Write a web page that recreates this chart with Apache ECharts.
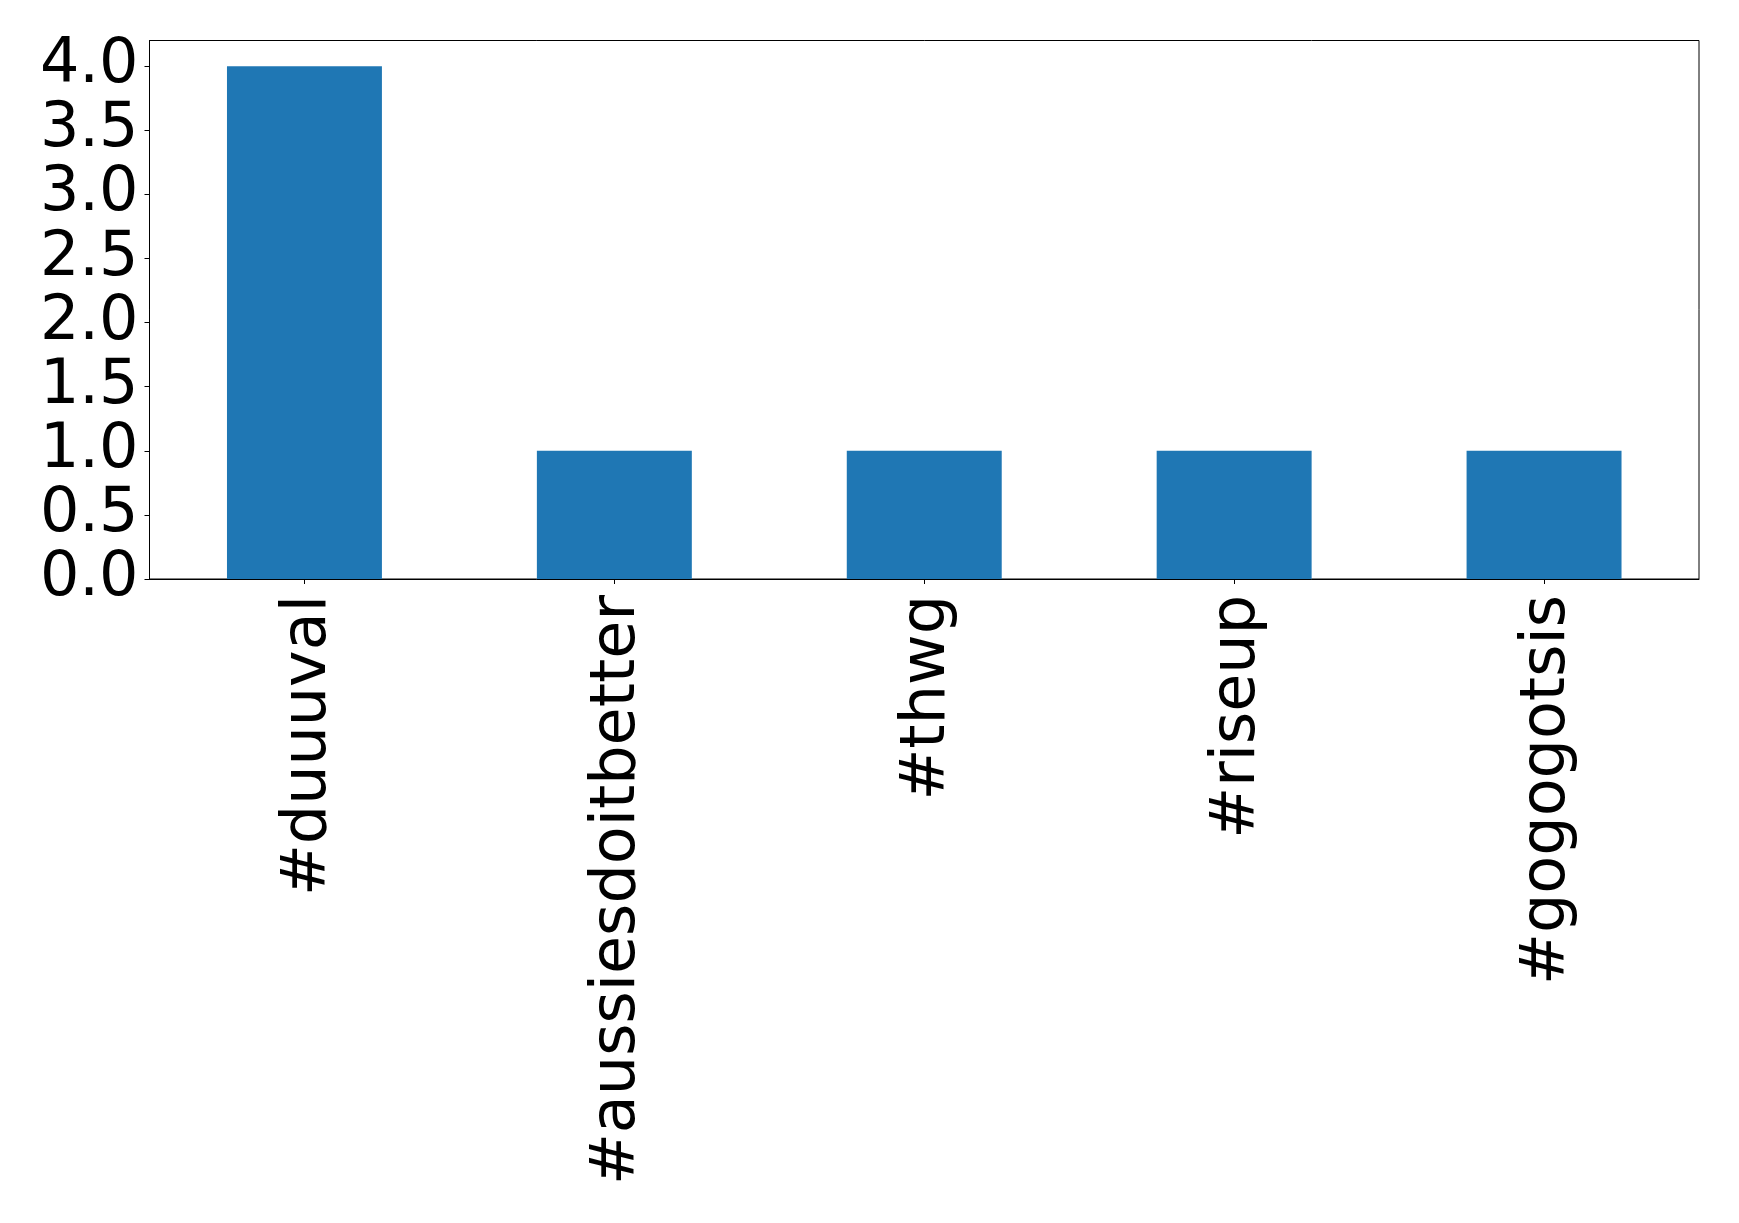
<!DOCTYPE html>
<html>
<head>
<meta charset="utf-8">
<script src="https://cdn.jsdelivr.net/npm/echarts@6/dist/echarts.min.js"></script>
<style>html,body{margin:0;padding:0;background:#fff;}#c{width:1739px;height:1223px;}</style>
</head>
<body>
<div id="c"></div>
<script>
const categories = ['#duuuval', '#aussiesdoitbetter', '#thwg', '#riseup', '#gogogotsis'];
const counts = [4, 1, 1, 1, 1];
const yTicks = [0, 0.5, 1.0, 1.5, 2.0, 2.5, 3.0, 3.5, 4.0];

const chart = echarts.init(document.getElementById('c'), null, {renderer: 'canvas'});
const font = 'DejaVu Sans';
chart.setOption({
  animation: false,
  backgroundColor: '#ffffff',
  grid: {left: 149.5, right: 40, top: 40.5, bottom: 644, show: true, borderColor: '#000', borderWidth: 1, backgroundColor: 'transparent'},
  xAxis: {
    type: 'category',
    data: categories,
    axisLine: {show: true, lineStyle: {color: '#000', width: 1}},
    axisTick: {show: true, alignWithLabel: true, length: 5, lineStyle: {color: '#000'}},
    axisLabel: {rotate: 90, margin: 16, fontFamily: font, fontSize: 62, color: '#000', interval: 0,
      formatter: v => '{t|' + v + '}',
      rich: {t: {fontFamily: font, fontSize: 62, color: '#000', padding: [8, 0, 0, 0]}}},
    splitLine: {show: false}
  },
  yAxis: {
    type: 'value',
    min: 0, max: 4.2, interval: 0.5,
    axisLine: {show: true, lineStyle: {color: '#000', width: 1}},
    axisTick: {show: true, length: 5, lineStyle: {color: '#000'}, customValues: yTicks},
    axisLabel: {margin: 11, fontFamily: font, fontSize: 62, color: '#000', customValues: yTicks,
      formatter: v => v.toFixed(1)},
    splitLine: {show: false}
  },
  series: [{
    type: 'bar',
    data: counts,
    barWidth: '50%',
    itemStyle: {color: '#1f77b4'}
  }]
});
</script>
</body>
</html>
